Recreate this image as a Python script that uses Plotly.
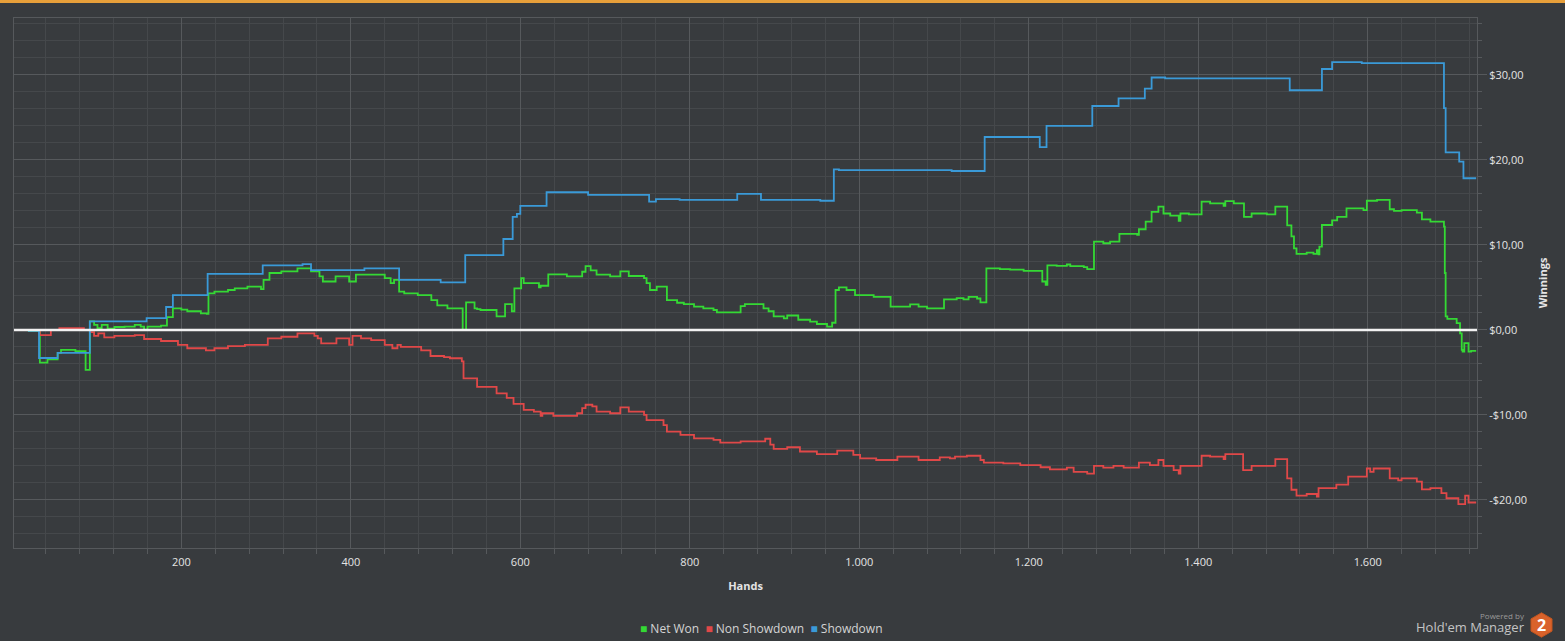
import plotly.graph_objects as go

# =========================
# Data (hand where each value starts, cumulative $)
# =========================
net_hands = [1, 20, 33, 42, 54, 58, 75, 87, 92, 97, 101, 106, 113, 121, 133, 145, 152, 156, 160,
             176, 183, 190, 200, 207, 223, 230, 232, 239, 255, 263, 278, 294, 297, 304, 318, 337,
             353, 363, 367, 382, 398, 406, 440, 447, 451, 457, 463, 479, 495, 502, 514, 532, 536,
             546, 549, 553, 572, 582, 590, 593, 601, 604, 622, 624, 633, 655, 673, 677, 683, 690,
             706, 718, 728, 746, 749, 753, 761, 773, 785, 793, 805, 816, 828, 832, 860, 865, 887,
             893, 899, 911, 915, 928, 942, 950, 962, 968, 972, 976, 985, 995, 1017, 1037, 1060,
             1070, 1080, 1100, 1115, 1123, 1129, 1139, 1143, 1150, 1166, 1178, 1194, 1216, 1220,
             1222, 1233, 1245, 1249, 1265, 1269, 1277, 1288, 1296, 1307, 1328, 1330, 1338, 1345,
             1353, 1359, 1367, 1377, 1379, 1389, 1404, 1414, 1430, 1432, 1442, 1454, 1463, 1481,
             1491, 1505, 1510, 1513, 1516, 1528, 1536, 1540, 1542, 1543, 1546, 1558, 1564, 1575,
             1595, 1599, 1611, 1626, 1631, 1640, 1658, 1664, 1674, 1690, 1691, 1692, 1694, 1705,
             1709, 1711, 1712, 1714, 1719, 1722, 1728]
net_won = [0.0, -0.1, -3.85, -3.45, -2.7, -2.35, -2.5, -4.7, 1.0, 0.6, 0.2, 0.6, 0.15, 0.35, 0.4,
           0.6, 0.4, 0.0, 0.4, 0.5, 1.5, 2.55, 2.4, 2.2, 1.96, 1.9, 4.3, 4.5, 4.7, 4.9, 5.1, 4.8,
           5.9, 6.7, 6.9, 7.25, 6.9, 6.3, 5.7, 6.3, 5.7, 6.5, 6.1, 5.5, 5.9, 4.5, 4.3, 4.1, 3.5,
           2.9, 2.55, 0.0, 3.25, 2.55, 2.45, 2.35, 1.6, 3.05, 2.2, 4.9, 6.1, 5.5, 5.0, 5.2, 6.55,
           6.3, 6.85, 7.5, 7.0, 6.5, 6.3, 6.9, 6.35, 6.1, 5.5, 4.7, 5.1, 3.5, 3.2, 3.05, 2.75,
           2.55, 2.35, 2.08, 2.8, 3.05, 2.55, 2.2, 1.6, 1.37, 1.7, 1.2, 0.98, 0.7, 0.4, 0.85, 4.7,
           5.0, 4.7, 4.1, 3.9, 2.75, 3.0, 2.75, 2.55, 3.6, 3.75, 3.6, 3.9, 3.7, 3.25, 7.25, 7.15,
           7.1, 6.95, 5.7, 5.3, 7.6, 7.55, 7.7, 7.5, 7.4, 7.15, 10.4, 10.2, 10.4, 11.3, 11.2,
           11.85, 12.75, 13.9, 14.5, 13.7, 13.45, 12.85, 13.7, 13.6, 15.1, 14.9, 14.6, 15.15,
           14.9, 13.3, 13.7, 13.6, 14.5, 12.3, 11.0, 9.6, 8.95, 9.1, 8.95, 9.4, 8.9, 9.8, 12.35,
           12.9, 13.3, 14.3, 14.1, 15.2, 15.3, 14.2, 14.0, 14.1, 13.8, 13.0, 12.75, 12.15, 6.7,
           1.6, 1.3, 0.8, -0.4, -2.35, -2.55, -1.55, -2.55, -2.45, -2.45]

nsd_hands = [1, 33, 46, 56, 85, 92, 97, 102, 109, 121, 145, 156, 176, 196, 207, 229, 239, 255,
             275, 302, 318, 337, 357, 361, 365, 383, 398, 402, 412, 424, 440, 449, 455, 459, 483,
             494, 510, 517, 531, 533, 549, 572, 584, 592, 604, 616, 624, 626, 639, 667, 673, 677,
             685, 690, 706, 718, 728, 746, 749, 769, 773, 789, 805, 828, 836, 860, 889, 895, 899,
             915, 930, 950, 974, 993, 1001, 1020, 1045, 1070, 1095, 1107, 1113, 1127, 1143, 1147,
             1170, 1190, 1214, 1225, 1245, 1253, 1269, 1277, 1288, 1300, 1312, 1330, 1343, 1353,
             1359, 1371, 1377, 1379, 1404, 1414, 1430, 1432, 1453, 1463, 1491, 1505, 1510, 1516,
             1528, 1540, 1542, 1563, 1577, 1599, 1603, 1607, 1626, 1636, 1640, 1658, 1664, 1674,
             1687, 1693, 1707, 1715, 1719, 1728]
non_showdown = [0.0, -0.6, 0.0, 0.2, 0.0, -0.25, -0.7, -0.4, -0.86, -0.7, -0.6, -1.06, -1.3,
                -1.76, -2.15, -2.4, -2.15, -1.9, -1.76, -0.98, -0.8, -0.4, -0.7, -0.98, -1.57,
                -0.98, -1.76, -0.7, -0.98, -1.2, -1.76, -2.15, -1.76, -2.0, -2.4, -3.06, -3.2,
                -3.33, -3.7, -5.7, -6.7, -7.45, -8.0, -8.7, -9.4, -9.6, -10.1, -9.8, -10.1, -9.8,
                -9.2, -8.8, -9.0, -9.6, -9.8, -9.1, -9.6, -10.0, -10.6, -11.2, -11.96, -12.35,
                -12.75, -12.94, -13.25, -13.1, -12.8, -13.5, -14.0, -13.8, -14.3, -14.6, -14.2,
                -14.7, -15.1, -15.3, -14.9, -15.3, -15.0, -15.1, -14.9, -14.8, -15.3, -15.6,
                -15.7, -15.9, -16.15, -16.4, -16.2, -16.7, -16.9, -16.0, -16.2, -16.0, -16.2,
                -15.6, -15.9, -15.3, -16.0, -16.5, -16.9, -16.0, -14.8, -14.9, -15.2, -14.6,
                -16.5, -16.0, -15.2, -17.45, -18.8, -19.5, -19.3, -19.6, -18.6, -18.2, -17.25,
                -16.3, -16.7, -16.3, -17.45, -17.7, -17.45, -17.85, -18.75, -18.6, -19.2, -19.8,
                -20.5, -19.5, -20.3, -20.3]

sd_hands = [1, 20, 32, 54, 92, 159, 182, 190, 231, 296, 343, 353, 416, 457, 506, 535, 580, 591,
            596, 600, 631, 680, 752, 760, 788, 856, 884, 954, 970, 976, 1109, 1148, 1213, 1221,
            1275, 1306, 1337, 1345, 1361, 1508, 1546, 1558, 1593, 1690, 1692, 1708, 1713, 1728]
showdown = [0.0, -0.1, -3.3, -2.7, 1.0, 1.4, 2.7, 4.1, 6.6, 7.6, 7.75, 7.05, 7.25, 5.9, 5.6, 8.8,
            10.7, 13.3, 13.65, 14.6, 16.2, 15.9, 15.1, 15.4, 15.3, 16.0, 15.3, 15.2, 18.9, 18.8,
            18.7, 22.7, 21.5, 24.0, 26.35, 27.25, 28.4, 29.7, 29.6, 28.2, 30.7, 31.5, 31.4, 26.1,
            20.9, 19.8, 17.85, 17.85]

series_names = ['Net Won', 'Non Showdown', 'Showdown']
series_colors = ['#34d934', '#e04848', '#3a9ad8']

y_tick_vals = [-20, -10, 0, 10, 20, 30]
y_tick_text = ['-$20,00', '-$10,00', '$0,00', '$10,00', '$20,00', '$30,00']

# =========================
# Layout helpers (pixel -> paper)
# =========================
W, H = 1565, 641
L, R, T, B = 14, 1477, 18, 548
BG = '#383b3e'
GRID_MAJOR = '#56595c'
GRID_MINOR = '#45484b'
TEXT = '#e4e4e4'
FONT = 'Open Sans'


def px_x(px):
    return (px - L) / (R - L)


def px_y(py):
    return (B - py) / (B - T)


# =========================
# Traces
# =========================
fig = go.Figure()
for name, hands, vals, color in zip(series_names,
                                    [net_hands, nsd_hands, sd_hands],
                                    [net_won, non_showdown, showdown],
                                    series_colors):
    fig.add_trace(go.Scatter(
        x=hands, y=vals, mode='lines', name=name,
        line=dict(color=color, width=1.8, shape='hv'),
        showlegend=False
    ))

# zero line
fig.add_shape(type='line', xref='paper', yref='y', x0=0, x1=1, y0=0, y1=0,
              line=dict(color='#f2f2f2', width=2.5), layer='above')

# orange bar along the top
fig.add_shape(type='rect', xref='paper', yref='paper',
              x0=px_x(0), x1=px_x(W), y0=px_y(3), y1=px_y(0),
              fillcolor='#e8a03a', line_width=0)

# Hold'em Manager logo
cx, cy, r = 1541.5, 625, 12.2
hexagon = [(cx, cy - r), (cx + 10.5, cy - r / 2), (cx + 10.5, cy + r / 2),
           (cx, cy + r), (cx - 10.5, cy + r / 2), (cx - 10.5, cy - r / 2)]
path = 'M ' + ' L '.join(f'{px_x(px):.5f},{px_y(py):.5f}' for px, py in hexagon) + ' Z'
fig.add_shape(type='path', xref='paper', yref='paper', path=path,
              fillcolor='#d9622b', line=dict(color='#c4561f', width=1))

fig.add_annotation(xref='paper', yref='paper', x=px_x(cx), y=px_y(cy),
                   xanchor='center', yanchor='middle',
                   text='<b>2</b>', showarrow=False,
                   font=dict(family=FONT, size=16, color='white'))
fig.add_annotation(xref='paper', yref='paper', x=px_x(1527), y=px_y(615.5),
                   xanchor='right', yanchor='middle', text='Powered by', showarrow=False,
                   font=dict(family=FONT, size=8, color='#9a9a9a'))
fig.add_annotation(xref='paper', yref='paper', x=px_x(1527), y=px_y(626.5),
                   xanchor='right', yanchor='middle', text="Hold'em Manager", showarrow=False,
                   font=dict(family=FONT, size=13, color='#c4c4c4'))

# legend row
legend_text = '&nbsp;&nbsp;'.join(
    f"<span style='color:{c};font-size:12px'>■</span> {n}"
    for n, c in zip(series_names, series_colors)
)
fig.add_annotation(xref='paper', yref='paper', x=px_x(761), y=px_y(628),
                   xanchor='center', yanchor='middle', text=legend_text, showarrow=False,
                   font=dict(family=FONT, size=12, color='#d4d4d4'))

# =========================
# Layout styling
# =========================
fig.update_layout(
    width=W, height=H,
    margin=dict(l=L, r=W - R, t=T, b=H - B),
    paper_bgcolor=BG, plot_bgcolor=BG,
    separators=',.',
    font=dict(family=FONT, color=TEXT, size=11),
    showlegend=False,
    xaxis=dict(
        range=[2.5, 1729], tick0=0, dtick=200, separatethousands=True,
        showgrid=True, gridcolor=GRID_MAJOR, gridwidth=1, zeroline=False,
        showline=True, linecolor=GRID_MAJOR, linewidth=1, mirror=True,
        ticks='', ticklabelstandoff=4,
        tickfont=dict(family=FONT, size=11, color=TEXT),
        minor=dict(tick0=0, dtick=40, showgrid=True, gridcolor=GRID_MINOR,
                   ticks='outside', ticklen=5, tickcolor=GRID_MAJOR),
        title=dict(text='<b>Hands</b>', standoff=14,
                   font=dict(family=FONT, size=11, color=TEXT)),
    ),
    yaxis=dict(
        side='right', range=[-25.65, 36.7],
        tickvals=y_tick_vals, ticktext=y_tick_text,
        showgrid=True, gridcolor=GRID_MAJOR, gridwidth=1, zeroline=False,
        showline=True, linecolor=GRID_MAJOR, linewidth=1, mirror=True,
        ticks='outside', ticklen=9, tickcolor=GRID_MAJOR,
        tickfont=dict(family=FONT, size=11, color=TEXT),
        minor=dict(tick0=0, dtick=2, showgrid=True, gridcolor=GRID_MINOR,
                   ticks='outside', ticklen=4, tickcolor=GRID_MAJOR),
        title=dict(text='<b>Winnings</b>', standoff=13,
                   font=dict(family=FONT, size=11, color=TEXT)),
    ),
)

fig.write_html('out.html', config={'displayModeBar': False},
               post_script="document.body.style.margin='0';")
